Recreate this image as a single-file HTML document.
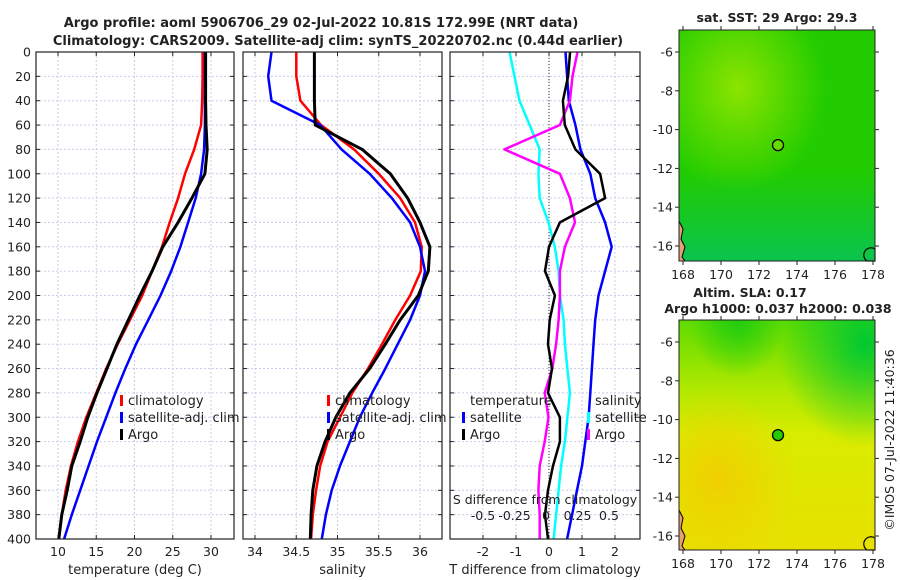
<!DOCTYPE html>
<html><head><meta charset="utf-8"><style>
body{margin:0;background:#fff;}
svg{display:block;font-family:"DejaVu Sans","Liberation Sans",sans-serif;}
</style></head><body>
<svg id="c" width="900" height="580" viewBox="0 0 900 580" xmlns="http://www.w3.org/2000/svg">
<defs>
<radialGradient id="g1a" cx="0.3" cy="0.25" r="0.45"><stop offset="0" stop-color="#8ce400"/><stop offset="1" stop-color="#8ce400" stop-opacity="0"/></radialGradient>
<linearGradient id="g1b" x1="0" y1="0" x2="0" y2="1"><stop offset="0.6" stop-color="#00c060" stop-opacity="0"/><stop offset="1" stop-color="#00c070" stop-opacity="0.7"/></linearGradient>
<linearGradient id="g2" x1="0" y1="0" x2="0" y2="1"><stop offset="0" stop-color="#5edc00"/><stop offset="0.3" stop-color="#b0e800"/><stop offset="0.5" stop-color="#d8ec00"/><stop offset="1" stop-color="#e8e000"/></linearGradient>
<radialGradient id="g2a" cx="0.95" cy="0.1" r="0.45"><stop offset="0" stop-color="#00c830"/><stop offset="1" stop-color="#00c830" stop-opacity="0"/></radialGradient>
<radialGradient id="g2b" cx="0.3" cy="0" r="0.25"><stop offset="0" stop-color="#20cc10"/><stop offset="1" stop-color="#20cc10" stop-opacity="0"/></radialGradient>
<radialGradient id="g2c" cx="0.2" cy="0.7" r="0.4"><stop offset="0" stop-color="#f0d000"/><stop offset="1" stop-color="#f0d000" stop-opacity="0"/></radialGradient>
</defs>
</svg>
<script>
// ---- data ----
const depths = [0,20,40,60,80,100,120,140,160,180,200,220,240,260,280,300,320,340,360,380,400];
const tempArgo = [29.3,29.3,29.3,29.35,29.5,29.2,27.5,25.7,23.7,22.3,20.7,19.2,17.7,16.4,15.1,13.9,12.9,11.8,11.2,10.5,10.1];
const tempClim = [28.9,28.9,28.85,28.7,27.8,26.6,25.7,24.6,23.6,22.3,21.0,19.4,17.8,16.3,15.0,13.7,12.6,11.7,11.0,10.5,10.1];
const tempSat = [29.2,29.2,29.2,29.2,29.1,28.7,28.0,27.0,26.0,24.8,23.4,21.8,20.2,18.8,17.5,16.3,15.1,14.0,12.9,11.8,10.8];
const salArgo = [34.72,34.72,34.72,34.73,35.3,35.64,35.85,36.0,36.12,36.1,35.98,35.76,35.58,35.39,35.15,34.98,34.85,34.75,34.7,34.68,34.67];
const salClim = [34.5,34.5,34.55,34.8,35.2,35.5,35.76,35.94,36.02,36.01,35.88,35.7,35.54,35.37,35.18,35.03,34.88,34.79,34.74,34.7,34.68];
const salSat = [34.2,34.16,34.2,34.79,35.05,35.39,35.66,35.88,36.0,36.06,36.0,35.88,35.73,35.58,35.42,35.27,35.15,35.03,34.93,34.86,34.81];
const dTsat = [0.5,0.55,0.6,0.8,0.95,1.25,1.4,1.7,1.9,1.7,1.5,1.4,1.35,1.3,1.25,1.2,1.1,1.0,0.85,0.7,0.55];
const dTargo = [0.64,0.58,0.42,0.48,0.8,1.55,1.7,0.33,0.0,-0.12,0.18,0.02,-0.03,0.09,-0.03,0.33,0.33,0.12,-0.03,-0.12,-0.03];
const dSsat = [-0.29,-0.25,-0.21,-0.13,-0.05,-0.06,-0.05,0.02,0.07,0.1,0.11,0.14,0.15,0.17,0.19,0.17,0.15,0.12,0.1,0.08,0.06];
const dSargo = [0.25,0.21,0.19,0.11,-0.33,0.11,0.19,0.23,0.15,0.11,0.11,0.1,0.08,0.05,-0.01,0.02,-0.01,-0.05,-0.06,-0.05,-0.05];
const depthTicks = [0,20,40,60,80,100,120,140,160,180,200,220,240,260,280,300,320,340,360,380,400];
const tempTicks = [10,15,20,25,30];
const salTicks = [34,34.5,35,35.5,36];
const dTTicks = [-2,-1,0,1,2];
const dSTicks = ["-0.5","-0.25","0","0.25","0.5"];
const lonTicks = [168,170,172,174,176,178];
const latTicks = [-6,-8,-10,-12,-14,-16];
const argoLon = 173.0, argoLat = -10.8;

const svg = document.getElementById('c');
const NS = 'http://www.w3.org/2000/svg';
function mk(tag, attrs, parent){const e=document.createElementNS(NS,tag);for(const k in attrs)e.setAttribute(k,attrs[k]);(parent||svg).appendChild(e);return e;}
function txt(x,y,s,size,anchor,weight,parent){const t=mk('text',{x:x,y:y,'font-size':size,'text-anchor':anchor||'middle','fill':'#222','font-weight':weight||'normal'},parent);t.textContent=s;return t;}

const Y0=52, Y1=539;
const yD = d => Y0 + (d/400)*(Y1-Y0);
function panel(name,x0,x1,xs,ticks,tickLabels,xlabel){
  const g=mk('g',{});
  
  
  ticks.forEach(t=>{mk('line',{x1:xs(t),x2:xs(t),y1:Y0,y2:Y1,stroke:'#c8cde8','stroke-dasharray':'2,2','stroke-width':1},g);});
  depthTicks.forEach(d=>{mk('line',{x1:x0,x2:x1,y1:yD(d),y2:yD(d),stroke:'#c8cde8','stroke-dasharray':'2,2','stroke-width':1},g);
    mk('line',{x1:x0,x2:x0+4,y1:yD(d),y2:yD(d),stroke:'#222'},g);mk('line',{x1:x1-4,x2:x1,y1:yD(d),y2:yD(d),stroke:'#222'},g);});
  ticks.forEach((t,i)=>{mk('line',{x1:xs(t),x2:xs(t),y1:Y1,y2:Y1-4,stroke:'#222'},g);mk('line',{x1:xs(t),x2:xs(t),y1:Y0,y2:Y0+4,stroke:'#222'},g);
    if(tickLabels) txt(xs(t),Y1+17,tickLabels[i],12.5,'middle','normal',g);});
  if(xlabel) txt((x0+x1)/2,Y1+35,xlabel,13,'middle','normal',g);
  return g;
}
function line(name,xs,xv,color,w,extra){
  const p=mk('polyline',Object.assign({points:xv.map((v,i)=>xs(v).toFixed(1)+','+yD(depths[i]).toFixed(1)).join(' '),fill:'none',stroke:color,'stroke-width':w,'stroke-linejoin':'round'},extra||{}));
  
  
}
function box(x0,x1){mk('rect',{x:x0,y:Y0,width:x1-x0,height:Y1-Y0,fill:'none',stroke:'#222','stroke-width':1.2});}

// Panel 1
const xT = v => 58 + (v-10)*7.65;
panel('temperature-panel',36,234,xT,tempTicks,tempTicks.map(String),'temperature (deg C)');
depthTicks.forEach(d=>{const t=txt(31,yD(d)+4.5,String(d),12.5,'end');});
line('temp-climatology',xT,tempClim,'#f00',2.5);
line('temp-satellite',xT,tempSat,'#00f',2.5);
line('temp-argo',xT,tempArgo,'#000',3);
box(36,234);

// Panel 2
const xS = v => 255 + (v-34)*82.5;
panel('salinity-panel',243,442,xS,salTicks,salTicks.map(String),'salinity');
line('sal-climatology',xS,salClim,'#f00',2.5);
line('sal-satellite',xS,salSat,'#00f',2.5);
line('sal-argo',xS,salArgo,'#000',3);
box(243,442);

// Panel 3
const xdT = v => 549 + v*33;
const xdS = v => 546 + v*126;
panel('difference-panel',450,640,xdT,dTTicks,dTTicks.map(String),'T difference from climatology');
mk('line',{x1:xdT(0),x2:xdT(0),y1:Y0,y2:Y1,stroke:'#333','stroke-dasharray':'1,2','stroke-width':1});
line('dS-satellite',xdS,dSsat,'#0ff',2.5);
line('dT-satellite',xdT,dTsat,'#00f',2.5);
line('dS-argo',xdS,dSargo,'#f0f',2.5);
line('dT-argo',xdT,dTargo,'#000',2.5);
box(450,640);
{const a=txt(545,504,'S difference from climatology',12.5);
 dSTicks.forEach(s=>{const t=txt(xdS(parseFloat(s)),520,s,12.5);});}

// legends
function legend(name,x,y,items){
  const g=mk('g',{});
  items.forEach((it,i)=>{mk('rect',{x:x,y:y+i*17-10,width:3,height:11,fill:it[1]},g);txt(x+8,y+i*17,it[0],13,'start','normal',g);});
}
legend('temp-legend',120,405,[['climatology','#f00'],['satellite-adj. clim','#00f'],['Argo','#000']]);
legend('sal-legend',327,405,[['climatology','#f00'],['satellite-adj. clim','#00f'],['Argo','#000']]);
txt(470,405,'temperature',13,'start');
legend('dT-legend',462,422,[['satellite','#00f'],['Argo','#000']]);
txt(595,405,'salinity',13,'start');
legend('dS-legend',587,422,[['satellite','#0ff'],['Argo','#f0f']]);

// titles
txt(321,27,'Argo profile: aoml 5906706_29 02-Jul-2022 10.81S 172.99E (NRT data)',13,'middle','bold');
txt(338,45,'Climatology: CARS2009. Satellite-adj clim: synTS_20220702.nc (0.44d earlier)',13,'middle','bold');

// maps
const MX0=679,MX1=875;
const xLon = v => 683 + (v-168)*19;
function map(name,top,bot,lat6y,fills,title){
  const g=mk('g',{});
  fills.forEach(f=>mk('rect',{x:MX0,y:top,width:MX1-MX0,height:bot-top,fill:f},g));
  const yL = v => lat6y + (-6 - v)*19.4;
  mk('path',{d:`M${MX0},${bot-40} l4,8 -2,10 4,8 -3,10 3,4 -6,0z`,fill:'#e8a070',stroke:'#000','stroke-width':1},g);
  mk('path',{d:`M${MX1},${bot-12} a6,6 0 0,0 -8,12 l8,0z`,fill:'none',stroke:'#000','stroke-width':1.2},g);
  mk('rect',{x:MX0,y:top,width:MX1-MX0,height:bot-top,fill:'none',stroke:'#222'},g);
  lonTicks.forEach(l=>{mk('line',{x1:xLon(l),x2:xLon(l),y1:bot,y2:bot+4,stroke:'#222'},g);mk('line',{x1:xLon(l),x2:xLon(l),y1:top,y2:top-4,stroke:'#222'},g);txt(xLon(l),bot+18,String(l),12.5,'middle','normal',g);});
  latTicks.forEach(l=>{mk('line',{x1:MX0-4,x2:MX0,y1:yL(l),y2:yL(l),stroke:'#222'},g);mk('line',{x1:MX1,x2:MX1+4,y1:yL(l),y2:yL(l),stroke:'#222'},g);txt(MX0-6,yL(l)+4.5,String(l),12.5,'end','normal',g);});
  const c=mk('circle',{cx:xLon(argoLon),cy:yL(argoLat),r:5.5,fill:title,stroke:'#000','stroke-width':1.3},g);
  
  
}
map('sst-map',30,261,52,['#22cc00','url(#g1a)','url(#g1b)'],'#66dd00');
map('sla-map',320,550,342,['url(#g2)','url(#g2a)','url(#g2b)','url(#g2c)'],'#22cc00');
txt(777,22,'sat. SST: 29 Argo: 29.3',12.5,'middle','bold');
txt(750,297,'Altim. SLA: 0.17',12.5,'middle','bold');
txt(778,313,'Argo h1000: 0.037 h2000: 0.038',12.5,'middle','bold');
const cp=txt(0,0,'©IMOS 07-Jul-2022 11:40:36',12.5,'middle');
cp.setAttribute('transform','translate(894,440) rotate(-90)');


</script>
</body></html>
